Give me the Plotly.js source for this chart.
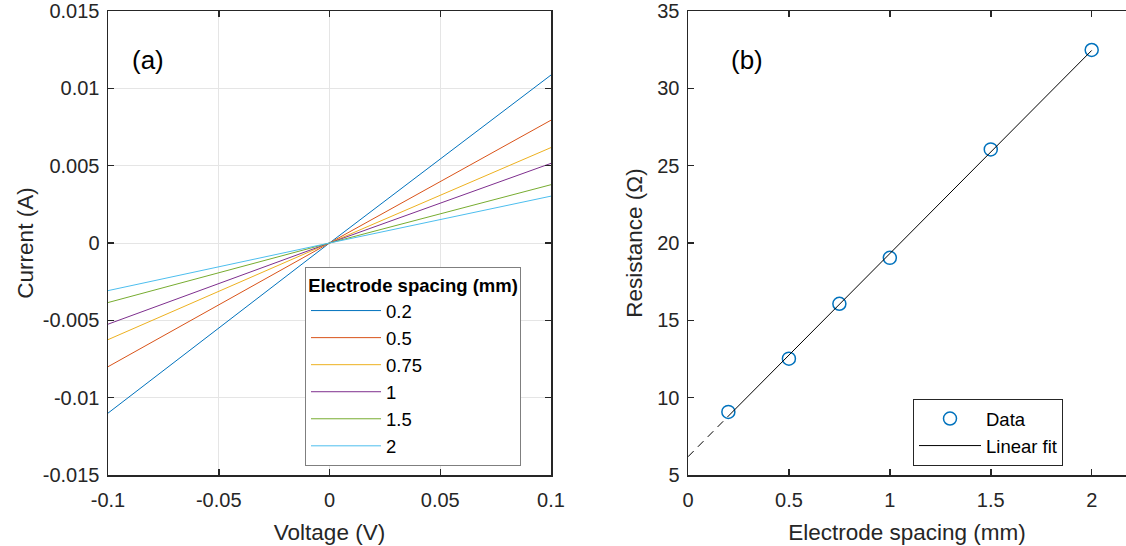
<!DOCTYPE html>
<html>
<head>
<meta charset="utf-8">
<script src="https://cdn.plot.ly/plotly-3.0.1.min.js"></script>
<style>html,body{margin:0;padding:0;background:#fff;}#chart{width:1126px;height:546px;}</style>
</head>
<body>
<div id="chart"></div>
<script>
// Panel (a): I-V curves
const voltage = [-0.1, 0, 0.1];
const spacingLabels = ['0.2', '0.5', '0.75', '1', '1.5', '2'];
const current_02  = [-0.01100, 0, 0.01086];
const current_05  = [-0.00800, 0, 0.00794];
const current_075 = [-0.00625, 0, 0.00617];
const current_1   = [-0.00525, 0, 0.00515];
const current_15  = [-0.00385, 0, 0.00377];
const current_2   = [-0.00308, 0, 0.00303];
const currents = [current_02, current_05, current_075, current_1, current_15, current_2];
const lineColors = ['#0072BD', '#D95319', '#EDB120', '#7E2F8E', '#77AC30', '#4DBEEE'];

// Panel (b): resistance vs spacing
const spacing = [0.2, 0.5, 0.75, 1, 1.5, 2];
const resistance = [9.08, 12.52, 16.07, 19.04, 26.05, 32.48];
const fitXSolid = [0.2, 2];
const fitYSolid = [8.81, 32.45];
const fitXDash = [0, 0.2];
const fitYDash = [6.18, 8.81];

// Tick labels
const yTickValsA = [-0.015, -0.01, -0.005, 0, 0.005, 0.01, 0.015];
const yTickTextA = ['-0.015', '-0.01', '-0.005', '0', '0.005', '0.01', '0.015'];
const xTickValsA = [-0.1, -0.05, 0, 0.05, 0.1];
const xTickTextA = ['-0.1', '-0.05', '0', '0.05', '0.1'];
const xTickValsB = [0, 0.5, 1, 1.5, 2];
const xTickTextB = ['0', '0.5', '1', '1.5', '2'];
const yTickValsB = [5, 10, 15, 20, 25, 30, 35];

const FONT = 'Liberation Sans, Arial, sans-serif';
const AX = '#262626';
const TICK_SIZE = 20;
const TITLE_SIZE = 22.5;
const LEG_SIZE = 18.5;

const traces = [];
currents.forEach((c, i) => {
  traces.push({
    x: voltage, y: c, type: 'scatter', mode: 'lines',
    name: spacingLabels[i],
    line: {color: lineColors[i], width: 1},
    xaxis: 'x', yaxis: 'y', legend: 'legend'
  });
});
traces.push({
  x: spacing, y: resistance, type: 'scatter', mode: 'markers', name: 'Data',
  marker: {symbol: 'circle-open', size: 13, color: '#0072BD', line: {width: 1.5, color: '#0072BD'}},
  xaxis: 'x2', yaxis: 'y2', legend: 'legend2'
});
traces.push({
  x: fitXSolid, y: fitYSolid, type: 'scatter', mode: 'lines', name: 'Linear fit',
  line: {color: '#000', width: 1},
  xaxis: 'x2', yaxis: 'y2', legend: 'legend2'
});
traces.push({
  x: fitXDash, y: fitYDash, type: 'scatter', mode: 'lines', name: 'fit extension',
  line: {color: '#000', width: 1, dash: '8px,6px'}, showlegend: false,
  xaxis: 'x2', yaxis: 'y2'
});

const axisCommon = {
  showline: true, linecolor: AX, linewidth: 1.5,
  ticks: 'inside', ticklen: 6, tickwidth: 1.5, tickcolor: AX,
  tickfont: {family: FONT, size: TICK_SIZE, color: AX},
  zeroline: false
};

const W = 1126, L = 108, R = 0;
const plotW = W - L - R;
const layout = {
  width: 1126, height: 546,
  margin: {l: L, r: R, t: 11, b: 71},
  paper_bgcolor: '#fff', plot_bgcolor: '#fff',
  font: {family: FONT, color: AX},
  showlegend: true,
  xaxis: Object.assign({}, axisCommon, {
    domain: [0, (551 - L) / plotW], range: [-0.1, 0.1],
    tickmode: 'array', tickvals: xTickValsA, ticktext: xTickTextA, ticklabelstandoff: 6,
    showgrid: true, gridcolor: '#e5e5e5', gridwidth: 1, mirror: 'ticks',
    title: {text: 'Voltage (V)', font: {family: FONT, size: TITLE_SIZE, color: AX}, standoff: 14}
  }),
  yaxis: Object.assign({}, axisCommon, {
    range: [-0.015, 0.015], anchor: 'x',
    tickmode: 'array', tickvals: yTickValsA, ticktext: yTickTextA, ticklabelstandoff: 3,
    showgrid: true, gridcolor: '#e5e5e5', gridwidth: 1, mirror: 'ticks',
    title: {text: 'Current (A)', font: {family: FONT, size: TITLE_SIZE, color: AX}, standoff: 3}
  }),
  xaxis2: Object.assign({}, axisCommon, {
    domain: [(688 - L) / plotW, 1], range: [0, 2.17], anchor: 'y2',
    tickmode: 'array', tickvals: xTickValsB, ticktext: xTickTextB, ticklabelstandoff: 6,
    showgrid: false, mirror: 'ticks',
    title: {text: 'Electrode spacing (mm)', font: {family: FONT, size: TITLE_SIZE, color: AX}, standoff: 14}
  }),
  yaxis2: Object.assign({}, axisCommon, {
    range: [5, 35], anchor: 'x2',
    tickmode: 'array', tickvals: yTickValsB, ticklabelstandoff: 3,
    showgrid: false, mirror: false,
    title: {text: 'Resistance (Ω)', font: {family: FONT, size: TITLE_SIZE, color: AX}, standoff: 8}
  }),
  legend: {
    x: (305 - L) / plotW, y: 1 - (267 - 11) / 464, xanchor: 'left', yanchor: 'top',
    bgcolor: '#fff', bordercolor: '#7f7f7f', borderwidth: 1,
    font: {family: FONT, size: LEG_SIZE, color: '#000'},
    title: {text: '<b>Electrode spacing (mm)</b>', font: {family: FONT, size: LEG_SIZE, color: '#000'}, side: 'top center'},
    tracegroupgap: 0, itemwidth: 70
  },
  legend2: {
    x: (913 - L) / plotW, y: 1 - (399 - 11) / 464, xanchor: 'left', yanchor: 'top',
    bgcolor: '#fff', bordercolor: '#262626', borderwidth: 1,
    font: {family: FONT, size: LEG_SIZE, color: '#000'},
    itemwidth: 62
  },
  annotations: [
    {text: '(a)', xref: 'paper', yref: 'paper', x: (148 - L) / plotW, y: 1 - (60 - 11) / 464,
     xanchor: 'center', yanchor: 'middle', showarrow: false, font: {family: FONT, size: 26, color: '#000'}},
    {text: '(b)', xref: 'paper', yref: 'paper', x: (747 - L) / plotW, y: 1 - (60 - 11) / 464,
     xanchor: 'center', yanchor: 'middle', showarrow: false, font: {family: FONT, size: 26, color: '#000'}}
  ]
};

Plotly.newPlot('chart', traces, layout, {displayModeBar: false, staticPlot: true}).then(() => {
  // separator line under legend title, placed from the rendered legend box
  const bg = document.querySelector('.legend .bg');
  const title = document.querySelector('.legend .legendtitletext');
  if (bg && title) {
    const root = document.getElementById('chart').getBoundingClientRect();
    const b = bg.getBoundingClientRect();
    const t = title.getBoundingClientRect();
    const yPix = t.bottom - root.top + 3;
    Plotly.relayout('chart', {shapes: [{
      type: 'line', xref: 'paper', yref: 'paper',
      x0: (b.left - root.left - L) / plotW, x1: (b.right - root.left - L) / plotW,
      y0: 1 - (yPix - 11) / 464, y1: 1 - (yPix - 11) / 464,
      line: {color: '#7f7f7f', width: 1}, layer: 'above'
    }]});
  }
});
</script>
</body>
</html>
